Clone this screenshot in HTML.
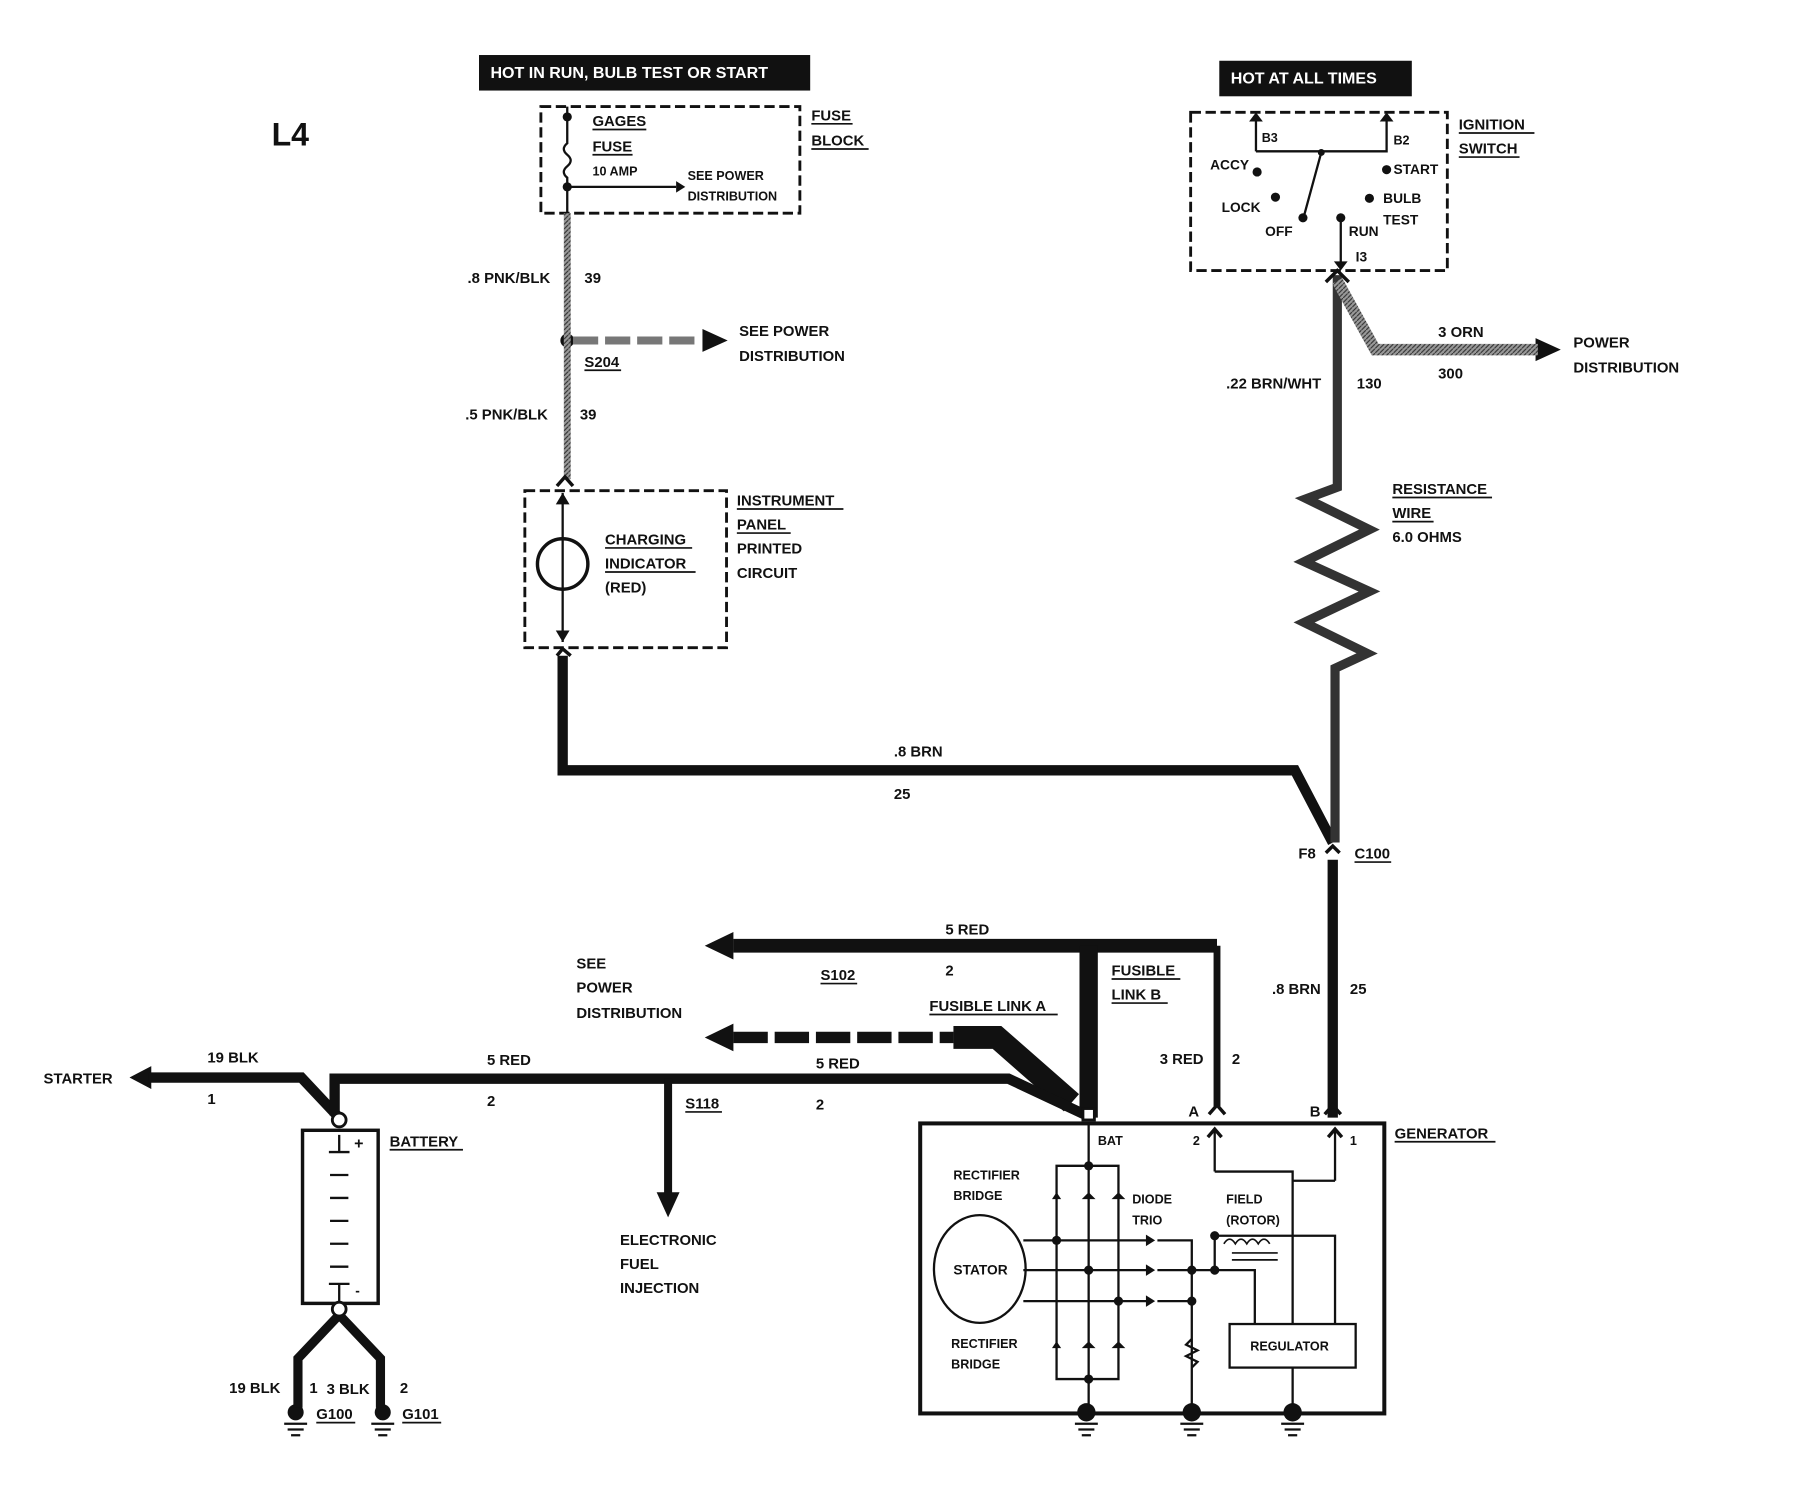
<!DOCTYPE html>
<html><head><meta charset="utf-8"><style>
html,body{margin:0;padding:0;background:#fff;}
svg{display:block;}
text{font-family:"Liberation Sans",sans-serif;font-weight:bold;font-size:13px;fill:#111;}
</style></head><body>
<svg width="1798" height="1504" viewBox="0 0 1569 1312" preserveAspectRatio="none" xmlns="http://www.w3.org/2000/svg">
<defs>
<pattern id="hg" width="4" height="4" patternUnits="userSpaceOnUse"><rect width="4" height="4" fill="#999"/><path d="M0 4L4 0" stroke="#333" stroke-width="1"/></pattern>
</defs>
<text x="237" y="127" style="font-size:28px">L4</text>
<rect x="418" y="48" width="289" height="31" fill="#111"/>
<text x="428" y="68" style="fill:#fff;font-size:14px">HOT IN RUN,   BULB TEST OR START</text>
<rect x="1064" y="53" width="168" height="31" fill="#111"/>
<text x="1074" y="73" style="fill:#fff;font-size:14px">HOT AT ALL TIMES</text>

<g stroke="#111" fill="none" stroke-width="2.5">
<rect x="472" y="93" width="226" height="93" stroke-dasharray="9,4"/>
<path d="M495 93V125 q-6 5 0 10 q6 5 0 10 q-6 5 0 10 V186" stroke-width="2"/>
<path d="M495 163H590" stroke-width="2"/>
<rect x="1039" y="98" width="224" height="138" stroke-dasharray="9,4"/>
<path d="M1096 132V102 M1096 132H1210 V102 M1153 133L1138 188 M1170 190V233" stroke-width="2"/>
<rect x="458" y="428" width="176" height="137" stroke-dasharray="9,4"/>
<path d="M491 430V560" stroke-width="2"/>
<circle cx="491" cy="492" r="22" stroke-width="3"/>
<rect x="803" y="980" width="405" height="253" stroke-width="3.5"/>
<path d="M950 980V1233 M922 1017H976V1203H922Z M893 1082H1005 M893 1108H1005 M893 1135H1005 M1010 1082H1040V1233 M1010 1108H1095 V1155 M1010 1135H1040 M1060 1108V1078 H1165V1155 M1060 1022H1128V1155 M1060 1022V985 M1165 1030H1128 M1165 1030V985 M1128 1193V1233" stroke-width="2"/>
<ellipse cx="855" cy="1107" rx="40" ry="47" stroke-width="2"/>
<rect x="1073" y="1155" width="110" height="38" stroke-width="2"/>
<path d="M1040 1168 l-5 5 l10 5 l-10 5 l10 5 l-5 5" stroke-width="2"/>
<path d="M1068 1085 q5 -8 10 0 q5 -8 10 0 q5 -8 10 0 q5 -8 10 0 M1075 1093H1115 M1075 1099H1115" stroke-width="1.5"/>
<rect x="264" y="986" width="66" height="151" stroke-width="3"/>
<path d="M287 1005H305 M296 1005V990 M288 1025H304 M288 1045H304 M288 1065H304 M288 1085H304 M288 1105H304 M287 1120H305 M296 1120V1137" stroke-width="2"/>
</g>
<g fill="#111">
<polygon points="590,158 598,163 590,168"/>
<circle cx="495" cy="102" r="4"/><circle cx="495" cy="163" r="4"/>
<circle cx="1153" cy="133" r="3"/>
<circle cx="1097" cy="150" r="4"/><circle cx="1113" cy="172" r="4"/><circle cx="1137" cy="190" r="4"/><circle cx="1170" cy="190" r="4"/><circle cx="1195" cy="173" r="4"/><circle cx="1210" cy="148" r="4"/>
<polygon points="1090,106 1096,98 1102,106"/><polygon points="1204,106 1210,98 1216,106"/>
<polygon points="1164,228 1170,236 1176,228"/>
<polygon points="485,440 491,430 497,440"/><polygon points="485,550 491,560 497,550"/>
<circle cx="495" cy="297" r="6"/>
<polygon points="613,287 635,297 613,307"/>
<polygon points="1340,295 1362,305 1340,315"/>
<polygon points="113,940 132,930 132,950"/>
<polygon points="615,825 640,813 640,837"/>
<polygon points="615,905 640,893 640,917"/>
<polygon points="573,1040 583,1062 593,1040"/>
<circle cx="730" cy="825" r="5"/><circle cx="583" cy="941" r="4"/>
<circle cx="950" cy="1017" r="4"/><circle cx="950" cy="1203" r="4"/><circle cx="922" cy="1082" r="4"/><circle cx="950" cy="1108" r="4"/><circle cx="976" cy="1135" r="4"/><circle cx="1040" cy="1108" r="4"/><circle cx="1040" cy="1135" r="4"/><circle cx="1060" cy="1108" r="4"/><circle cx="1060" cy="1078" r="4"/>
<polygon points="918,1046 926,1046 922,1040"/><polygon points="944,1046 956,1046 950,1040"/><polygon points="970,1046 982,1046 976,1040"/>
<polygon points="918,1176 926,1176 922,1170"/><polygon points="944,1176 956,1176 950,1170"/><polygon points="970,1176 982,1176 976,1170"/>
<polygon points="1000,1077 1008,1082 1000,1087"/><polygon points="1000,1103 1008,1108 1000,1113"/><polygon points="1000,1130 1008,1135 1000,1140"/>
<circle cx="948" cy="1232" r="8"/><circle cx="1040" cy="1232" r="8"/><circle cx="1128" cy="1232" r="8"/>
<circle cx="258" cy="1232" r="7"/><circle cx="334" cy="1232" r="7"/>
</g>
<g stroke="#111" stroke-width="2">
<path d="M938 1242H958 M941 1247H955 M944 1252H952 M1030 1242H1050 M1033 1247H1047 M1036 1252H1044 M1118 1242H1138 M1121 1247H1135 M1124 1252H1132 M248 1242H268 M251 1247H265 M254 1252H262 M324 1242H344 M327 1247H341 M330 1252H338"/>
</g>
<g fill="none" stroke-linejoin="miter">
<path d="M495 186V418" stroke="url(#hg)" stroke-width="6"/>
<path d="M500 297H612" stroke="#777" stroke-width="7" stroke-dasharray="22,6"/>
<path d="M491 572V672 H1130 L1163 735" stroke="#111" stroke-width="9"/>
<path d="M1167 240V425 L1140 435 L1195 462 L1138 490 L1195 516 L1138 543 L1193 570 L1165 583 V735" stroke="#333" stroke-width="8"/>
<path d="M1167 245 L1200 305 H1342" stroke="url(#hg)" stroke-width="10"/>
<path d="M1163 750V975" stroke="#111" stroke-width="9"/>
<path d="M640 825H1062" stroke="#111" stroke-width="12"/>
<path d="M950 975V825" stroke="#111" stroke-width="16"/>
<path d="M1062 825V965" stroke="#111" stroke-width="6"/>
<path d="M640 905H832" stroke="#111" stroke-width="10" stroke-dasharray="30,6"/>
<path d="M832 905H870 L935 962" stroke="#111" stroke-width="20"/>
<path d="M130 940H263 L294 973" stroke="#111" stroke-width="9"/>
<path d="M292 973V941 H880 L946 972" stroke="#111" stroke-width="9"/>
<path d="M583 941V1042" stroke="#111" stroke-width="7"/>
<path d="M296 1147 L260 1185 V1228 M296 1147 L332 1185 V1228" stroke="#111" stroke-width="8"/>
</g>
<g stroke="#111" stroke-width="2.5" fill="#fff">
<circle cx="296" cy="977" r="6"/><circle cx="296" cy="1142" r="6"/>
<rect x="945" y="967" width="10" height="10"/>
</g>
<g stroke="#111" stroke-width="3" fill="none">
<path d="M486 424 L493 416 L500 424 M486 572 L491 566 L498 572 M1157 744 L1163 738 L1169 744 M1157 246 L1167 236 L1177 246 M1055 972 L1062 964 L1069 972 M1156 972 L1163 964 L1170 972 M1054 992 L1060 985 L1066 992 M1159 992 L1165 985 L1171 992"/>
</g>
<g>
<text x="517" y="110">GAGES</text><text x="517" y="132">FUSE</text><text x="517" y="153" style="font-size:11px">10 AMP</text>
<text x="600" y="157" style="font-size:11px">SEE POWER</text><text x="600" y="175" style="font-size:11px">DISTRIBUTION</text>
<text x="708" y="105">FUSE</text><text x="708" y="127">BLOCK</text>
<text x="408" y="247">.8 PNK/BLK</text><text x="510" y="247">39</text>
<text x="510" y="320">S204</text>
<text x="645" y="293">SEE POWER</text><text x="645" y="315">DISTRIBUTION</text>
<text x="406" y="366">.5 PNK/BLK</text><text x="506" y="366">39</text>
<text x="528" y="475">CHARGING</text><text x="528" y="496">INDICATOR</text><text x="528" y="517">(RED)</text>
<text x="643" y="441">INSTRUMENT</text><text x="643" y="462">PANEL</text><text x="643" y="483">PRINTED</text><text x="643" y="504">CIRCUIT</text>
<text x="1101" y="124" style="font-size:11px">B3</text><text x="1216" y="126" style="font-size:11px">B2</text>
<text x="1056" y="148" style="font-size:12px">ACCY</text><text x="1216" y="152" style="font-size:12px">START</text>
<text x="1066" y="185" style="font-size:12px">LOCK</text><text x="1207" y="177" style="font-size:12px">BULB</text><text x="1207" y="196" style="font-size:12px">TEST</text>
<text x="1104" y="206" style="font-size:12px">OFF</text><text x="1177" y="206" style="font-size:12px">RUN</text><text x="1183" y="228" style="font-size:12px">I3</text>
<text x="1273" y="113">IGNITION</text><text x="1273" y="134">SWITCH</text>
<text x="1255" y="294">3 ORN</text><text x="1255" y="330">300</text>
<text x="1373" y="303">POWER</text><text x="1373" y="325">DISTRIBUTION</text>
<text x="1070" y="339">.22 BRN/WHT</text><text x="1184" y="339">130</text>
<text x="1215" y="431">RESISTANCE</text><text x="1215" y="452">WIRE</text><text x="1215" y="473">6.0 OHMS</text>
<text x="780" y="660">.8 BRN</text><text x="780" y="697">25</text>
<text x="1133" y="749">F8</text><text x="1182" y="749">C100</text>
<text x="1110" y="867">.8 BRN</text><text x="1178" y="867">25</text>
<text x="825" y="815">5 RED</text><text x="825" y="851">2</text><text x="716" y="855">S102</text>
<text x="503" y="845">SEE</text><text x="503" y="866">POWER</text><text x="503" y="888">DISTRIBUTION</text>
<text x="811" y="882">FUSIBLE LINK A</text><text x="970" y="851">FUSIBLE</text><text x="970" y="872">LINK B</text>
<text x="38" y="945">STARTER</text><text x="181" y="927">19 BLK</text><text x="181" y="963">1</text>
<text x="425" y="929">5 RED</text><text x="425" y="965">2</text><text x="598" y="967">S118</text>
<text x="712" y="932">5 RED</text><text x="712" y="968">2</text>
<text x="1012" y="928">3 RED</text><text x="1075" y="928">2</text>
<text x="1037" y="974">A</text><text x="1143" y="974">B</text>
<text x="1041" y="999" style="font-size:11px">2</text><text x="1178" y="999" style="font-size:11px">1</text>
<text x="958" y="999" style="font-size:11px">BAT</text>
<text x="1217" y="993">GENERATOR</text>
<text x="541" y="1086">ELECTRONIC</text><text x="541" y="1107">FUEL</text><text x="541" y="1128">INJECTION</text>
<text x="340" y="1000">BATTERY</text><text x="309" y="1002" style="font-size:14px">+</text><text x="310" y="1130" style="font-size:12px">-</text>
<text x="200" y="1215">19 BLK</text><text x="270" y="1215">1</text><text x="285" y="1216">3 BLK</text><text x="349" y="1215">2</text>
<text x="276" y="1238">G100</text><text x="351" y="1238">G101</text>
<text x="832" y="1029" style="font-size:11px">RECTIFIER</text><text x="832" y="1047" style="font-size:11px">BRIDGE</text>
<text x="988" y="1050" style="font-size:11px">DIODE</text><text x="988" y="1068" style="font-size:11px">TRIO</text>
<text x="1070" y="1050" style="font-size:11px">FIELD</text><text x="1070" y="1068" style="font-size:11px">(ROTOR)</text>
<text x="832" y="1112" style="font-size:12px">STATOR</text>
<text x="830" y="1176" style="font-size:11px">RECTIFIER</text><text x="830" y="1194" style="font-size:11px">BRIDGE</text>
<text x="1091" y="1178" style="font-size:11px">REGULATOR</text>
</g>
<g stroke="#111" stroke-width="1.5">
<path d="M517 113H564 M517 135H552 M708 108H744 M708 130H758 M510 323H542 M528 478H604 M528 499H607 M643 444H736 M643 465H690 M1273 116H1339 M1273 137H1326 M1215 434H1302 M1215 455H1251 M1182 752H1214 M716 858H748 M811 885H923 M970 854H1030 M970 875H1019 M598 970H630 M340 1003H404 M1217 996H1305 M276 1241H310 M351 1241H385"/>
</g>
</svg>
</body></html>
